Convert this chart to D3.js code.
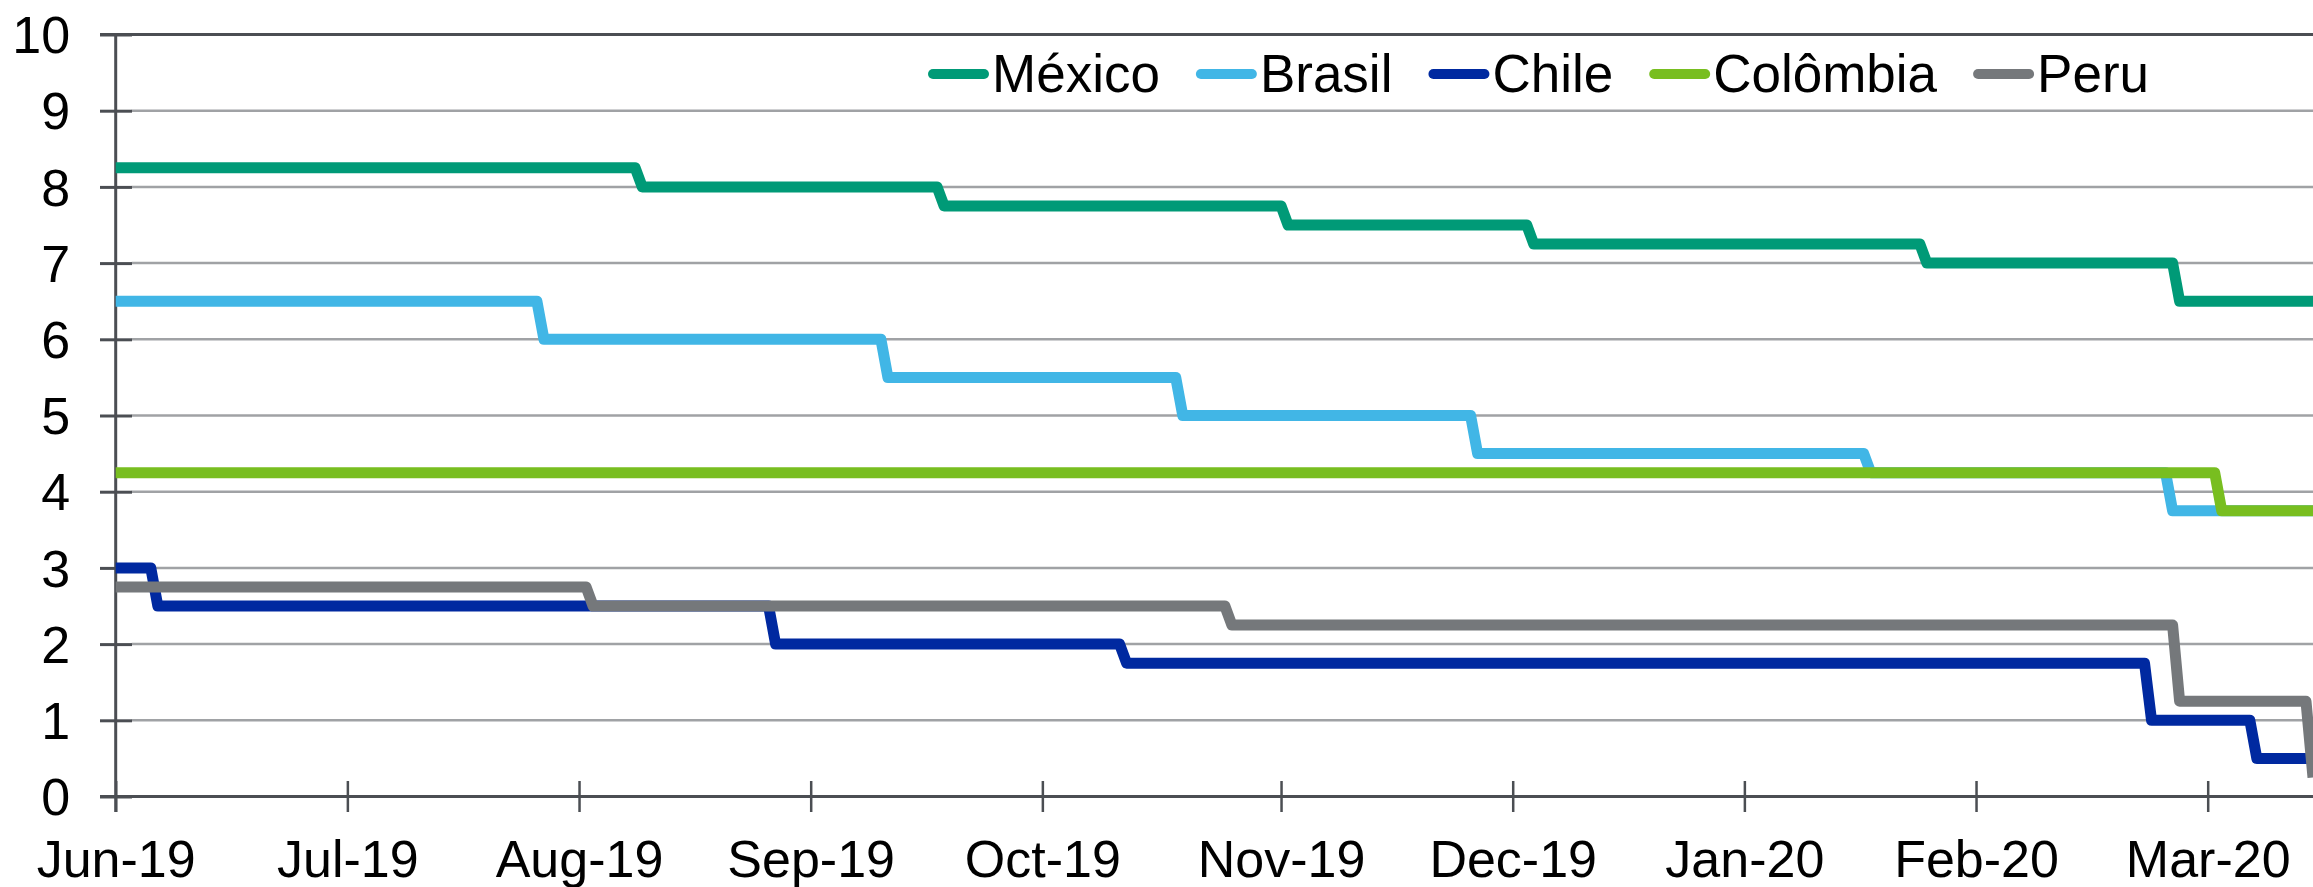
<!DOCTYPE html>
<html>
<head>
<meta charset="utf-8">
<script src="https://cdn.jsdelivr.net/npm/d3@7"></script>
<style>
  body { margin: 0; background: #ffffff; }
  svg { display: block; }
  text { font-family: "Liberation Sans", Arial, Helvetica, sans-serif; fill: #000000; }
</style>
</head>
<body>
<svg id="chart" width="2313" height="887"></svg>
<script>
// Policy rates (%), one entry per change: [first day at the new level, rate]
const seriesNames = ["México", "Brasil", "Chile", "Colômbia", "Peru"];
const seriesColors = ["#009a77", "#41b6e6", "#0029a0", "#78be20", "#75787b"];

const mexicoSteps = [
  ["2019-06-01", 8.25], ["2019-08-15", 8.00], ["2019-09-27", 7.75],
  ["2019-11-15", 7.50], ["2019-12-20", 7.25], ["2020-02-14", 7.00],
  ["2020-03-21", 6.50]
];
const brasilSteps = [
  ["2019-06-01", 6.50], ["2019-08-01", 6.00], ["2019-09-19", 5.50],
  ["2019-10-31", 5.00], ["2019-12-12", 4.50], ["2020-02-06", 4.25],
  ["2020-03-20", 3.75]
];
const chileSteps = [
  ["2019-06-01", 3.00], ["2019-06-07", 2.50], ["2019-09-03", 2.00],
  ["2019-10-23", 1.75], ["2020-03-17", 1.00], ["2020-04-01", 0.50]
];
const colombiaSteps = [
  ["2019-06-01", 4.25], ["2020-03-27", 3.75]
];
const peruSteps = [
  ["2019-06-01", 2.75], ["2019-08-08", 2.50], ["2019-11-07", 2.25],
  ["2020-03-21", 1.25], ["2020-04-09", 0.25]
];
const seriesSteps = [mexicoSteps, brasilSteps, chileSteps, colombiaSteps, peruSteps];

const startDate = "2019-06-01";
const endDate = "2020-04-09";

const yTicks = [0, 1, 2, 3, 4, 5, 6, 7, 8, 9, 10];
const xTickDates = [
  "2019-06-01", "2019-07-04", "2019-08-06", "2019-09-08", "2019-10-11",
  "2019-11-14", "2019-12-17", "2020-01-19", "2020-02-21", "2020-03-25"
];

// ---- layout ----
const W = 2313, H = 887;
const plotLeft = 115.7, plotRight = 2313, plotTop = 34.5, plotBottom = 796.5;
const axisColor = "#4b4e53";
const gridColor = "#a0a2a5";

const parse = d3.utcParse("%Y-%m-%d");
const x = d3.scaleUtc().domain([parse(startDate), parse(endDate)]).range([plotLeft, plotRight]);
const y = d3.scaleLinear().domain([0, 10]).range([plotBottom, plotTop]);

const svg = d3.select("#chart");
svg.append("rect").attr("width", W).attr("height", H).attr("fill", "#ffffff");

// horizontal gridlines
svg.append("g")
  .selectAll("line")
  .data(yTicks.filter(v => v > 0 && v < 10))
  .join("line")
  .attr("x1", plotLeft + 16).attr("x2", plotRight)
  .attr("y1", d => y(d)).attr("y2", d => y(d))
  .attr("stroke", gridColor).attr("stroke-width", 2.5);

// top border of the plot
svg.append("line")
  .attr("x1", plotLeft - 15.7).attr("x2", plotRight)
  .attr("y1", y(10)).attr("y2", y(10))
  .attr("stroke", axisColor).attr("stroke-width", 3);

// y axis
const yAxis = d3.axisLeft(y).tickValues(yTicks).tickFormat(d3.format("d")).tickSize(0);
const gy = svg.append("g").attr("transform", `translate(${plotLeft},0)`).call(yAxis);
gy.select(".domain").remove();
gy.selectAll(".tick line")
  .attr("x1", -15.7).attr("x2", 16.3)
  .attr("stroke", axisColor).attr("stroke-width", 3);
gy.selectAll(".tick text")
  .attr("x", -45.5).attr("dy", "0.35em")
  .attr("text-anchor", "end")
  .attr("fill", "#000")
  .style("font-size", "52px");
gy.append("line")
  .attr("x1", 0).attr("x2", 0)
  .attr("y1", y(10) - 1.5).attr("y2", plotBottom + 15.5)
  .attr("stroke", axisColor).attr("stroke-width", 3);

// x axis
const xAxis = d3.axisBottom(x)
  .tickValues(xTickDates.map(parse))
  .tickFormat(d3.utcFormat("%b-%y"))
  .tickSize(0);
const gx = svg.append("g").attr("transform", `translate(0,${plotBottom})`).call(xAxis);
gx.select(".domain").remove();
gx.selectAll(".tick line")
  .attr("y1", -15.5).attr("y2", 15.5)
  .attr("stroke", axisColor).attr("stroke-width", 2.5);
gx.selectAll(".tick text")
  .attr("y", 80.5).attr("dy", 0)
  .attr("fill", "#000")
  .style("font-size", "52px");
gx.insert("line", ":first-child")
  .attr("x1", plotLeft - 15.7).attr("x2", plotRight)
  .attr("y1", 0).attr("y2", 0)
  .attr("stroke", axisColor).attr("stroke-width", 3);

// step series: the rate holds until the day before a change, then moves over one day
function stepPoints(steps) {
  const pts = [];
  steps.forEach(([d, v], i) => {
    const date = parse(d);
    if (i > 0) pts.push([d3.utcDay.offset(date, -1), steps[i - 1][1]]);
    pts.push([date, v]);
  });
  const end = parse(endDate);
  const last = pts[pts.length - 1];
  if (+last[0] < +end) pts.push([end, last[1]]);
  return pts;
}

const line = d3.line().x(d => x(d[0])).y(d => y(d[1]));

svg.append("g")
  .selectAll("path")
  .data(seriesSteps.map((s, i) => ({ pts: stepPoints(s), color: seriesColors[i] })))
  .join("path")
  .attr("d", d => line(d.pts))
  .attr("fill", "none")
  .attr("stroke", d => d.color)
  .attr("stroke-width", 11)
  .attr("stroke-linejoin", "round")
  .attr("stroke-linecap", "butt");

// legend
const legend = svg.append("g");
let lx = 928;
const ly = 74;
seriesNames.forEach((name, i) => {
  legend.append("line")
    .attr("x1", lx + 5).attr("x2", lx + 56)
    .attr("y1", ly).attr("y2", ly)
    .attr("stroke", seriesColors[i]).attr("stroke-width", 10)
    .attr("stroke-linecap", "round");
  const t = legend.append("text")
    .attr("x", lx + 64).attr("y", 91.5)
    .style("font-size", "53px")
    .text(name);
  lx = lx + 64 + t.node().getComputedTextLength() + 36;
});
</script>
</body>
</html>
